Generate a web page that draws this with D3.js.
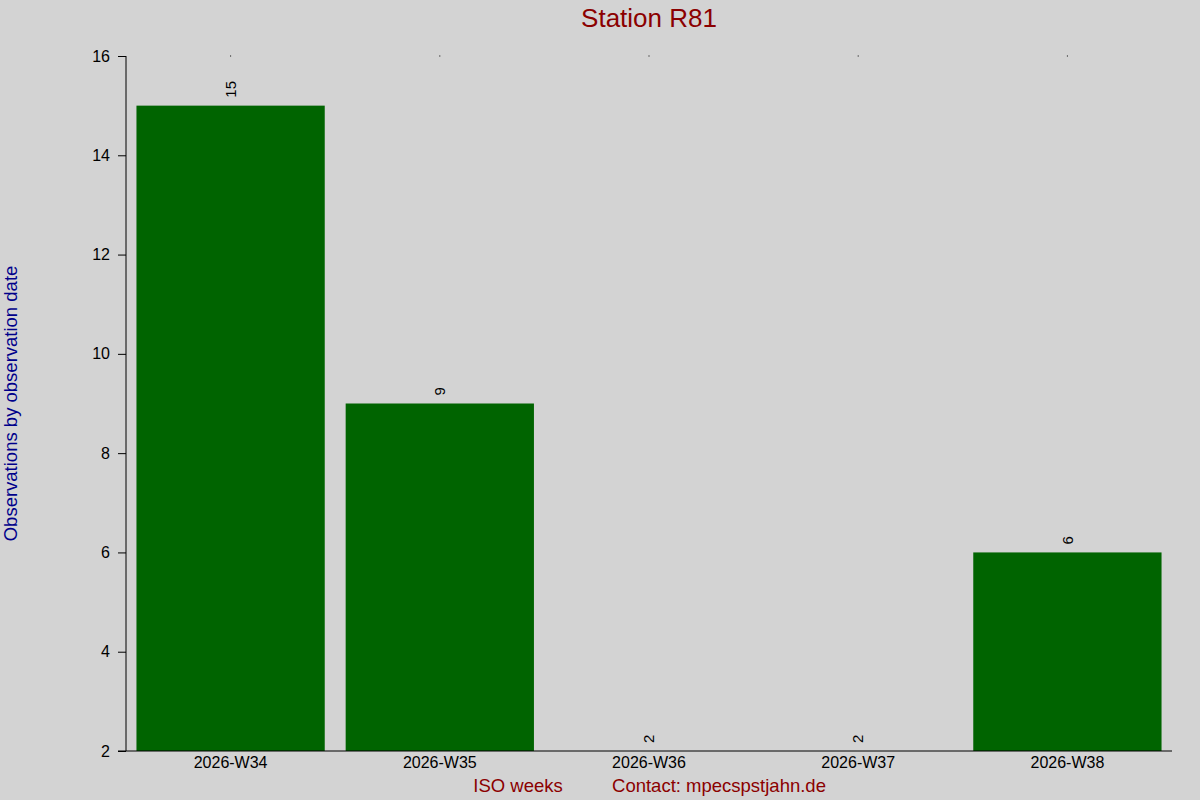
<!DOCTYPE html>
<html>
<head>
<meta charset="utf-8">
<script src="https://cdn.jsdelivr.net/npm/d3@7"></script>
<style>
  body { margin: 0; background: #d3d3d3; }
  svg { display: block; font-family: "Liberation Sans", Arial, sans-serif; }
</style>
</head>
<body>
<svg id="chart" width="1200" height="800"></svg>
<script>
'use strict';

// chart data
var weeks = ['2026-W34', '2026-W35', '2026-W36', '2026-W37', '2026-W38'];
var counts = [15, 9, 2, 2, 6];
var yTicks = [2, 4, 6, 8, 10, 12, 14, 16];

var width = 1200, height = 800;
var margin = { top: 56, right: 28, bottom: 49, left: 126 };
var fontFam = '"Liberation Sans", Arial, sans-serif';

var svg = d3.select('#chart');
svg.append('rect')
	.attr('width', width)
	.attr('height', height)
	.style('fill', '#d3d3d3');

var x = d3.scaleBand()
	.domain(weeks)
	.range([margin.left, width - margin.right])
	.paddingInner(0.1)
	.paddingOuter(0.05);

var y = d3.scaleLinear()
	.domain([2, 16])
	.range([height - margin.bottom, margin.top]);

/*
bars
*/
svg.selectAll('rect.bar')
	.data(weeks)
	.enter()
	.append('rect')
	.attr('class', 'bar')
	.attr('x', function(d) { return x(d); })
	.attr('y', function(d, i) { return y(counts[i]); })
	.attr('width', x.bandwidth())
	.attr('height', function(d, i) { return y(2) - y(counts[i]); })
	.style('fill', '#006400');

// value labels, rotated
svg.selectAll('text.val')
	.data(weeks)
	.enter()
	.append('text')
	.attr('class', 'val')
	.attr('transform', function(d, i) {
		var cx = x(d) + x.bandwidth() / 2;
		return 'translate(' + cx + ',' + (y(counts[i]) - 8) + ') rotate(-90)';
	})
	.attr('dy', '0.35em')
	.style('font-size', '15px')
	.style('fill', 'black')
	.text(function(d, i) { return counts[i]; });

/*
y axis
*/
var yAxis = svg.append('g')
	.attr('transform', 'translate(' + margin.left + ',0)')
	.call(d3.axisLeft(y).tickValues(yTicks).tickSize(8).tickPadding(8).tickFormat(d3.format('d')));
yAxis.select('.domain').attr('d', 'M0,' + y(16) + 'V' + y(2));
yAxis.selectAll('text').style('font-size', '16px').style('fill', 'black').style('font-family', fontFam);

/*
x axis
*/
var xAxis = svg.append('g')
	.attr('transform', 'translate(0,' + y(2) + ')')
	.call(d3.axisBottom(x).tickSize(0).tickPadding(6));
xAxis.select('.domain').attr('d', 'M' + (margin.left - 8) + ',0H' + (width - margin.right));
xAxis.selectAll('text').style('font-size', '16px').style('fill', 'black').style('font-family', fontFam);

// small marks along the top
svg.selectAll('rect.topmark')
	.data(weeks)
	.enter()
	.append('rect')
	.attr('class', 'topmark')
	.attr('x', function(d) { return x(d) + x.bandwidth() / 2 - 0.5; })
	.attr('y', y(16) - 0.5)
	.attr('width', 1)
	.attr('height', 1)
	.style('fill', 'black');

/*
titles
*/
svg.append('text')
	.attr('x', (margin.left + width - margin.right) / 2)
	.attr('y', 27)
	.attr('text-anchor', 'middle')
	.style('font-size', '26px')
	.style('fill', '#8b0000')
	.text('Station R81');

svg.append('text')
	.attr('transform', 'translate(11,' + ((y(16) + y(2)) / 2) + ') rotate(-90)')
	.attr('text-anchor', 'middle')
	.attr('dy', '0.35em')
	.style('font-size', '18.5px')
	.style('fill', '#00008b')
	.text('Observations by observation date');

svg.append('text')
	.attr('x', 518)
	.attr('y', 792)
	.attr('text-anchor', 'middle')
	.style('font-size', '18.5px')
	.style('fill', '#8b0000')
	.text('ISO weeks');

svg.append('text')
	.attr('x', 719)
	.attr('y', 792)
	.attr('text-anchor', 'middle')
	.style('font-size', '18.5px')
	.style('fill', '#8b0000')
	.text('Contact: mpecspstjahn.de');
</script>
</body>
</html>
